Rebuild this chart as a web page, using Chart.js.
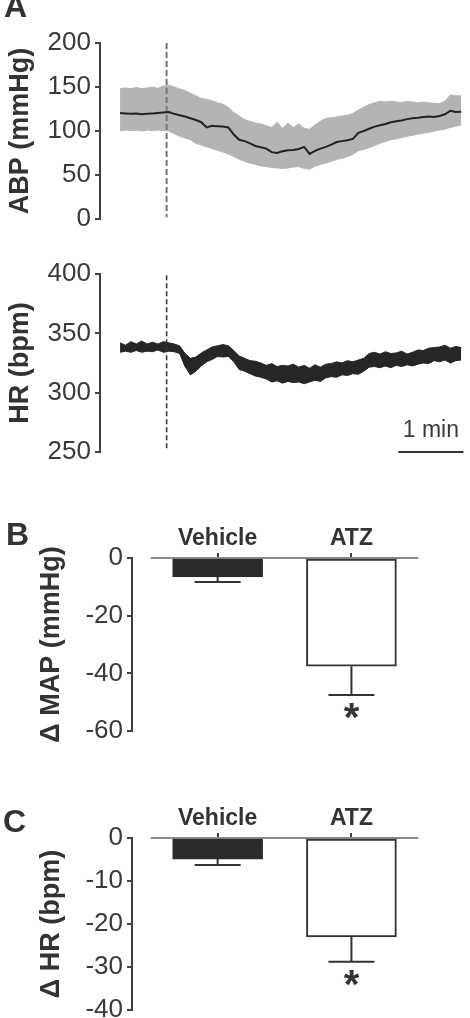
<!DOCTYPE html>
<html><head><meta charset="utf-8">
<script src="https://cdn.jsdelivr.net/npm/chart.js@4/dist/chart.umd.min.js"></script>
<style>
html,body{margin:0;padding:0;background:#fff;width:470px;height:1018px;overflow:hidden;position:relative;}
canvas{position:absolute;left:0;}
</style></head><body>
<canvas id="cABP" width="470" height="240" style="top:0px"></canvas>
<canvas id="cHR" width="470" height="240" style="top:240px"></canvas>
<canvas id="cMAP" width="470" height="270" style="top:490px"></canvas>
<canvas id="cDHR" width="470" height="258" style="top:760px"></canvas>
<script>
// ---------- DATA ----------
const timeSec = [0,5,10,15,20,25,30,35,40,45,50,55,60,65,70,75,80,85,90,95,100,105,110,115,120,125,130,135,140,145,150,155,160,165,170,175,180,185,190,195,200,205,210,215,220,225,230,235,240,245,250,255,260,265,270,275,280,285,290,295,300,305,310,315];
const abpMean = [120.5,120,119.5,120,119,119.5,120,120.5,121,121.5,119.5,118,116.5,114.5,112.5,110,104,106,105.5,105,104,96,90,88.5,86,83,81.5,80,76,75,77,78,78.5,79.5,82,74,77.5,80,82,84.5,87.5,88.5,89.5,91,98,100,102.5,105,106.5,108,110,111,112,113.5,114.5,115,116,116.5,116,117,119,123,121.5,122];
const abpUpper = [148,149,148,149.5,148,149,150,148.5,151,152,150,148,146,143,140,137,136,134.5,132,130.5,127,121,117,113,111,109,108,106,104,110,103,109,104,108,103,102,107,111,114.5,115,116,117,118,120,124,127,130,132,134,133,134,133,132.5,133.5,133,132,133,132,131.5,131,134,141,140,140];
const abpLower = [100,101,100.5,101,100,101,100.5,101,100.5,100,97,94,92,90,86,84,82,80,78,76,74,71,68,65.5,63.5,62,60.5,59.5,58.5,58,57.5,58,59,59.5,57.5,56.5,60,62,63.5,65.5,67.5,69,71,73.5,77.5,79,81,83.5,86,88,90,91,92.5,94,95,96.5,97.5,98.5,100,101,102,104,105.5,107];
const hrUpper = [342,340,343,341,343.5,341,342.5,341,343,342,341,339.5,333,329,330,333.5,336,338.5,339.5,340.5,339.5,335.5,331,329,327,326.5,325,323,324.5,322,323,322.5,324,321.5,323,320.5,323.5,321.5,324,324.5,326,325,327,326,327.5,329,333,334,332.5,334.5,333,333.5,335,332.5,334,336,335.5,337.5,338,338.5,340,337.5,339,338];
const hrLower = [334,335,334,335.5,334,335,334.5,336,334,335,334.5,333,322,315,318,322.5,326,328,330.5,330,330.5,326,319.5,318,316,314,313,311.5,309,310,308,309.5,308.5,309,307.5,309,310.5,309.5,312.5,313.5,313,315,314.5,316,315.5,318,321.5,322,321,322.5,321,323,322,323.5,322.5,324,325,324.5,327,326,327.5,325,327,327.5];
const stimTime = 43;                 // drug injection (dashed line), s
const abpDashRange = [200, 2];
const hrDashRange = [399, 251];
const scaleBar = [257, 317];         // 1 min
const scaleBarLabel = '1 min';
const abpTicks = [0,50,100,150,200];
const hrTicks = [250,300,350,400];

const groups = ['Vehicle','ATZ'];
const groupPos = [1,2];
const zeroLineSpan = [0.5, 2.5];
const dMapMean = [-6.6,-37.5];
const dMapSem = [1.7,10.0];
const dHrMean = [-4.9,-23.0];
const dHrSem = [1.4,5.8];
const significant = [false,true];
const mapTicks = [-60,-40,-20,0];
const dhrTicks = [-40,-30,-20,-10,0];

// ---------- STYLE ----------
const FONT = "'Liberation Sans', Arial, Helvetica, sans-serif";
const AX = '#404040';
const TXT = '#3a3a3a';
const pts = (xs, ys) => xs.map((x,i)=>({x, y: ys[i]}));

const textPlugin = {
  id: 'textItems',
  afterDraw(chart, args, opts) {
    const ctx = chart.ctx;
    (opts.items || []).forEach(it => {
      ctx.save();
      ctx.font = it.font;
      ctx.fillStyle = it.color || '#333';
      ctx.textAlign = it.align || 'left';
      ctx.textBaseline = 'alphabetic';
      let x = it.px, y = it.py;
      if (it.x !== undefined) x = chart.scales.x.getPixelForValue(it.x);
      if (it.y !== undefined) y = chart.scales.y.getPixelForValue(it.y) + (it.dy || 0);
      ctx.fillText(it.text, x, y);
      ctx.restore();
    });
  }
};

const errorPlugin = {
  id: 'errorBars',
  afterDatasetsDraw(chart, args, opts) {
    if (!opts.mean) return;
    const ctx = chart.ctx, ys = chart.scales.y;
    const meta = chart.getDatasetMeta(opts.datasetIndex);
    ctx.save();
    ctx.strokeStyle = '#333';
    ctx.lineWidth = 2;
    meta.data.forEach((bar, i) => {
      const x = bar.x;
      const y0 = ys.getPixelForValue(opts.mean[i]);
      const y1 = ys.getPixelForValue(opts.mean[i] - opts.sem[i]);
      ctx.beginPath();
      ctx.moveTo(x, y0); ctx.lineTo(x, y1);
      ctx.moveTo(x - 23, y1); ctx.lineTo(x + 23, y1);
      ctx.stroke();
      if (opts.sig[i]) {
        ctx.font = 'bold 40px ' + FONT;
        ctx.fillStyle = '#333';
        ctx.textAlign = 'center';
        ctx.textBaseline = 'alphabetic';
        const m = ctx.measureText('*');
        const h = m.actualBoundingBoxAscent + m.actualBoundingBoxDescent;
        const cy = y1 + 16;
        ctx.fillText('*', x, cy + h/2 - m.actualBoundingBoxDescent);
      }
    });
    ctx.restore();
  }
};

Chart.register(textPlugin, errorPlugin);
Chart.defaults.font.family = FONT;
Chart.defaults.animation = false;

function traceYAxis(min, max, ticks, title) {
  return {
    type: 'linear', min, max,
    afterBuildTicks: s => { s.ticks = ticks.map(v => ({value: v})); },
    afterFit: s => { s.width = 100; s.paddingTop = 0; s.paddingBottom = 0; },
    border: {display: true, color: AX, width: 2},
    grid: {display: true, drawOnChartArea: false, drawTicks: true, tickLength: 5, color: AX, lineWidth: 2},
    ticks: {color: TXT, font: {size: 26}, padding: 4},
    title: {display: true, text: title, color: '#333', font: {size: 27, weight: 'bold'}, padding: {top: 4, bottom: 0}}
  };
}
const traceX = {type: 'linear', display: false, min: -18.5, max: 318.5};

// ---------- A: ABP ----------
new Chart(document.getElementById('cABP'), {
  type: 'line',
  data: {datasets: [
    {data: pts(timeSec, abpMean), borderColor: '#222', borderWidth: 2, pointRadius: 0, tension: 0},
    {data: [{x: stimTime, y: abpDashRange[0]}, {x: stimTime, y: abpDashRange[1]}], borderColor: '#777', borderWidth: 2, borderDash: [6,3], pointRadius: 0},
    {data: pts(timeSec, abpUpper), borderColor: '#b4b4b4', borderWidth: 1, backgroundColor: '#b4b4b4', fill: '+1', pointRadius: 0},
    {data: pts(timeSec, abpLower), borderColor: '#b4b4b4', borderWidth: 1, pointRadius: 0}
  ]},
  options: {
    responsive: false, devicePixelRatio: 1,
    layout: {padding: {top: 43, bottom: 21, left: 0, right: 5}},
    plugins: {legend: {display: false}, tooltip: {enabled: false},
      textItems: {items: [{text: 'A', px: 4, py: 17, font: 'bold 32px ' + FONT, color: '#333'}]}},
    scales: {x: traceX, y: traceYAxis(0, 200, abpTicks, 'ABP (mmHg)')}
  }
});

// ---------- A: HR ----------
new Chart(document.getElementById('cHR'), {
  type: 'line',
  data: {datasets: [
    {data: [{x: stimTime, y: hrDashRange[0]}, {x: stimTime, y: hrDashRange[1]}], borderColor: '#333', borderWidth: 1.5, borderDash: [5,3], pointRadius: 0},
    {data: [{x: scaleBar[0], y: 250}, {x: scaleBar[1], y: 250}], borderColor: '#333', borderWidth: 2, pointRadius: 0, clip: false},
    {data: pts(timeSec, hrUpper), borderColor: '#262626', borderWidth: 1, backgroundColor: '#262626', fill: '+1', pointRadius: 0},
    {data: pts(timeSec, hrLower), borderColor: '#262626', borderWidth: 1, pointRadius: 0}
  ]},
  options: {
    responsive: false, devicePixelRatio: 1,
    layout: {padding: {top: 34, bottom: 28, left: 0, right: 5}},
    plugins: {legend: {display: false}, tooltip: {enabled: false},
      textItems: {items: [{text: scaleBarLabel, x: (scaleBar[0] + scaleBar[1]) / 2, y: 250, dy: -15, align: 'center', font: '23px ' + FONT, color: TXT}]}},
    scales: {x: traceX, y: traceYAxis(250, 400, hrTicks, 'HR (bpm)')}
  }
});

// ---------- B / C: bar charts ----------
function barChart(id, mean, sem, ticks, yMin, title, letter, padTop, padBottom) {
  return new Chart(document.getElementById(id), {
    type: 'bar',
    data: {datasets: [
      {type: 'bar', data: pts(groupPos, mean), backgroundColor: ['#2a2a2a', '#ffffff'], borderColor: ['#2a2a2a', '#333333'],
       borderWidth: 2, borderSkipped: false, barThickness: 90},
      {type: 'line', data: [{x: zeroLineSpan[0], y: 0}, {x: zeroLineSpan[1], y: 0}], borderColor: '#8a8a8a', borderWidth: 2, pointRadius: 0, clip: false}
    ]},
    options: {
      responsive: false, devicePixelRatio: 1,
      layout: {padding: {top: padTop, bottom: padBottom, left: 0, right: 49}},
      plugins: {legend: {display: false}, tooltip: {enabled: false},
        errorBars: {datasetIndex: 0, mean, sem, sig: significant},
        textItems: {items: [{text: letter.t, px: letter.x, py: letter.y, font: 'bold 32px ' + FONT, color: '#333'}]}},
      scales: {
        x: {type: 'linear', position: 'top', min: 0.36, max: 2.52, offset: false,
            afterBuildTicks: s => { s.ticks = groupPos.map(v => ({value: v})); },
            afterFit: s => { s.height = 54; s.paddingLeft = 0; s.paddingRight = 0; },
            border: {display: false},
            grid: {display: true, offset: false, drawOnChartArea: false, drawTicks: true, tickLength: 5, color: AX, lineWidth: 2},
            ticks: {callback: v => groups[groupPos.indexOf(v)], color: '#333', font: {size: 23, weight: 'bold'}, padding: 1, maxRotation: 0, autoSkip: false}},
        y: {type: 'linear', min: yMin, max: 0,
            afterBuildTicks: s => { s.ticks = ticks.map(v => ({value: v})); },
            afterFit: s => { s.width = 132; s.paddingTop = 0; s.paddingBottom = 0; },
            border: {display: true, color: AX, width: 2},
            grid: {display: true, drawOnChartArea: false, drawTicks: true, tickLength: 5, color: AX, lineWidth: 2},
            ticks: {color: TXT, font: {size: 26}, padding: 4},
            title: {display: true, text: title, color: '#333', font: {size: 27, weight: 'bold'}, padding: {top: 35, bottom: 0}}}
      }
    }
  });
}
barChart('cMAP', dMapMean, dMapSem, mapTicks, -60, 'Δ MAP (mmHg)', {t: 'B', x: 6, y: 55}, 14, 29);
barChart('cDHR', dHrMean, dHrSem, dhrTicks, -40, 'Δ HR (bpm)', {t: 'C', x: 3, y: 72}, 24, 8);
</script>
</body></html>
